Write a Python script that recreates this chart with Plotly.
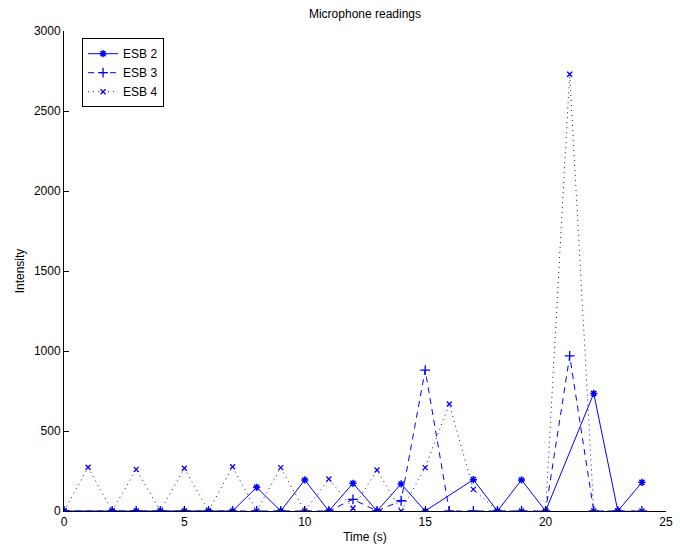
import plotly.graph_objects as go

# ESB 2 (solid, asterisk)
t2 = [0, 2, 3, 4, 5, 6, 7, 8, 9, 10, 11, 12, 13, 14, 15, 17, 18, 19, 20, 22, 23, 24]
v2 = [0, 0, 0, 0, 0, 0, 0, 148, 0, 194, 0, 173, 0, 169, 0, 196, 0, 194, 0, 735, 0, 179]

# ESB 3 (dashed, plus)
t3 = [0, 2, 3, 4, 5, 6, 7, 8, 9, 10, 11, 12, 13, 14, 15, 16, 17, 18, 19, 20, 21, 22, 23, 24]
v3 = [0, 0, 0, 0, 0, 0, 0, 0, 0, 0, 0, 73, 0, 64, 881, 0, 0, 0, 0, 0, 969, 0, 0, 0]

# ESB 4 (dotted, x)
t4 = list(range(0, 25))
v4 = [0, 273, 0, 260, 0, 267, 0, 277, 0, 271, 0, 200, 17, 256, 0, 271, 669, 135, 0, 0, 0, 2730, 0, 0, 0]

x_ticks = [0, 5, 10, 15, 20, 25]
y_ticks = [0, 500, 1000, 1500, 2000, 2500, 3000]

blue = "rgb(0,0,255)"
fig = go.Figure()
fig.add_trace(go.Scatter(x=t2, y=v2, name="ESB 2", mode="lines+markers",
                         line=dict(color=blue, width=1, dash="solid"),
                         marker=dict(symbol="asterisk-open", size=6, color=blue,
                                     line=dict(color=blue, width=1.5))))
fig.add_trace(go.Scatter(x=t3, y=v3, name="ESB 3", mode="lines+markers",
                         line=dict(color=blue, width=1, dash="6px,5px"),
                         marker=dict(symbol="cross-thin-open", size=7, color=blue,
                                     line=dict(color=blue, width=1.3))))
fig.add_trace(go.Scatter(x=t4, y=v4, name="ESB 4", mode="lines+markers",
                         line=dict(color=blue, width=1, dash="1px,4px"),
                         marker=dict(symbol="x-thin-open", size=5, color=blue,
                                     line=dict(color=blue, width=1.3))))

font = "Liberation Sans, Arial, Helvetica, sans-serif"
fig.update_layout(
    width=680, height=551,
    margin=dict(l=64, r=7, t=31, b=40),
    paper_bgcolor="white", plot_bgcolor="white",
    font=dict(family=font, size=11, color="black"),
    title=dict(text="Microphone readings", x=0.5, xref="paper", xanchor="center",
               y=1, yref="container", yanchor="top", pad=dict(t=10),
               font=dict(family=font, size=12, color="black")),
    showlegend=True,
    legend=dict(x=0.03, y=0.985, xanchor="left", yanchor="top",
                bgcolor="white", bordercolor="black", borderwidth=1,
                font=dict(family=font, size=12, color="black"),
                tracegroupgap=0, itemwidth=30),
)
fig.update_xaxes(range=[0, 25], tickvals=x_ticks, ticks="inside", ticklen=5,
                 tickcolor="black", showline=True, linecolor="black", linewidth=1,
                 showgrid=False, zeroline=False, mirror=False,
                 title=dict(text="Time (s)", standoff=4, font=dict(family=font, size=12)),
                 tickfont=dict(family=font, size=12))
fig.update_yaxes(range=[0, 3000], tickvals=y_ticks, ticks="inside", ticklen=5,
                 tickcolor="black", showline=True, linecolor="black", linewidth=1,
                 showgrid=False, zeroline=False, mirror=False,
                 title=dict(text="Intensity", standoff=6, font=dict(family=font, size=12)),
                 tickfont=dict(family=font, size=12))

fig.write_html("out.html")
